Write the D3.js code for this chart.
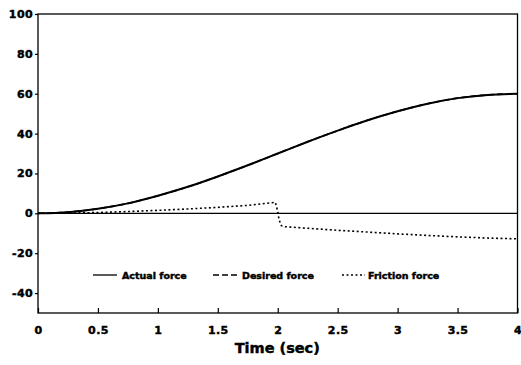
<!DOCTYPE html>
<html><head><meta charset="utf-8">
<script src="https://cdn.jsdelivr.net/npm/d3@7"></script>
<style>
body{margin:0;background:#fff;}
svg{display:block;}
text{font-family:"DejaVu Sans",sans-serif;font-weight:bold;fill:#000;stroke:#000;stroke-width:0.45px;}
</style></head>
<body><svg id="c" width="521" height="365"></svg>
<script>
const xTicks = [0, 0.5, 1, 1.5, 2, 2.5, 3, 3.5, 4];
const xTickLabels = ["0", "0.5", "1", "1.5", "2", "2.5", "3", "3.5", "4"];
const yTicks = [-40, -20, 0, 20, 40, 60, 80, 100];
const yTickLabels = ["-40", "-20", "0", "20", "40", "60", "80", "100"];
const xTitle = "Time (sec)";
const seriesNames = ["Actual force", "Desired force", "Friction force"];

const timeForce = [0, 0.25, 0.5, 0.75, 1.0, 1.25, 1.5, 1.75, 2.0, 2.25, 2.5, 2.75, 3.0, 3.25, 3.5, 3.75, 4.0];
const actualForce = [0, 0.6, 2.3, 5.0, 8.8, 13.3, 18.5, 24.1, 30.0, 35.9, 41.5, 46.7, 51.2, 55.0, 57.8, 59.4, 60.0];
const desiredForce = [0, 0.6, 2.3, 5.0, 8.8, 13.3, 18.5, 24.1, 30.0, 35.9, 41.5, 46.7, 51.2, 55.0, 57.8, 59.4, 60.0];

const timeFriction = [0, 0.25, 0.5, 0.75, 1.0, 1.25, 1.5, 1.75, 1.95, 1.98, 2.0, 2.01, 2.03, 2.06, 2.25, 2.5, 2.75, 3.0, 3.25, 3.5, 3.75, 4.0];
const frictionForce = [0, 0.1, 0.4, 0.9, 1.5, 2.2, 3.0, 4.0, 5.3, 5.5, 1.0, -3.0, -6.2, -6.7, -7.5, -8.5, -9.4, -10.3, -11.1, -11.8, -12.4, -12.8];

const svg = d3.select("#c");
const x = d3.scaleLinear().domain([0, 4]).range([38, 517.5]);
const y = d3.scaleLinear().domain([-50, 100]).range([313, 14]);

// frame
svg.append("rect").attr("x", x(0)).attr("y", y(100))
  .attr("width", x(4) - x(0)).attr("height", y(-50) - y(100))
  .attr("fill", "none").attr("stroke", "#000").attr("stroke-width", 1.3);

// zero line
svg.append("line").attr("x1", x(0)).attr("x2", x(4)).attr("y1", y(0)).attr("y2", y(0))
  .attr("stroke", "#000").attr("stroke-width", 1.4);

// x axis: ticks inward
const xAxis = d3.axisBottom(x).tickValues(xTicks).tickSizeInner(-5).tickSizeOuter(0)
  .tickFormat((d, i) => xTickLabels[i]).tickPadding(13);
const gx = svg.append("g").attr("transform", `translate(0,${y(-50)})`).call(xAxis);
gx.select(".domain").remove();
gx.selectAll("line").attr("stroke-width", 1.2);
gx.selectAll("text").attr("font-size", 11).attr("letter-spacing", 0.4);

// y axis: ticks outward
const yAxis = d3.axisLeft(y).tickValues(yTicks).tickSizeInner(3).tickSizeOuter(0)
  .tickFormat((d, i) => yTickLabels[i]).tickPadding(2);
const gy = svg.append("g").attr("transform", `translate(${x(0)},0)`).call(yAxis);
gy.select(".domain").remove();
gy.selectAll("line").attr("stroke-width", 1.2);
gy.selectAll("text").attr("font-size", 11).attr("letter-spacing", 0.4);

// title
svg.append("text").attr("x", (x(0) + x(4)) / 2 - 0.5).attr("y", 353).attr("text-anchor", "middle")
  .attr("font-size", 14.5).text(xTitle);

// lines
const line = (xs) => d3.line().x((d, i) => x(xs[i])).y(d => y(d));
svg.append("path").datum(actualForce).attr("d", line(timeForce).curve(d3.curveMonotoneX))
  .attr("fill", "none").attr("stroke", "#000").attr("stroke-width", 2);
svg.append("path").datum(desiredForce).attr("d", line(timeForce).curve(d3.curveMonotoneX))
  .attr("fill", "none").attr("stroke", "#000").attr("stroke-width", 1.6).attr("stroke-dasharray", "6,3");
svg.append("path").datum(frictionForce).attr("d", line(timeFriction).curve(d3.curveLinear))
  .attr("fill", "none").attr("stroke", "#000").attr("stroke-width", 1.6).attr("stroke-dasharray", "2,2.5");

// legend
const legY = 275;
const legItems = [
  {x1: 93, x2: 117, tx: 122, dash: null},
  {x1: 213, x2: 240, tx: 242, dash: "6,3"},
  {x1: 342, x2: 365, tx: 368, dash: "2,2.5"}
];
legItems.forEach((it, i) => {
  svg.append("line").attr("x1", it.x1).attr("x2", it.x2).attr("y1", legY).attr("y2", legY)
    .attr("stroke", "#000").attr("stroke-width", 1.3).attr("stroke-dasharray", it.dash);
  svg.append("text").attr("x", it.tx).attr("y", legY + 4).attr("font-size", 9.5).text(seriesNames[i]);
});
</script></body></html>
